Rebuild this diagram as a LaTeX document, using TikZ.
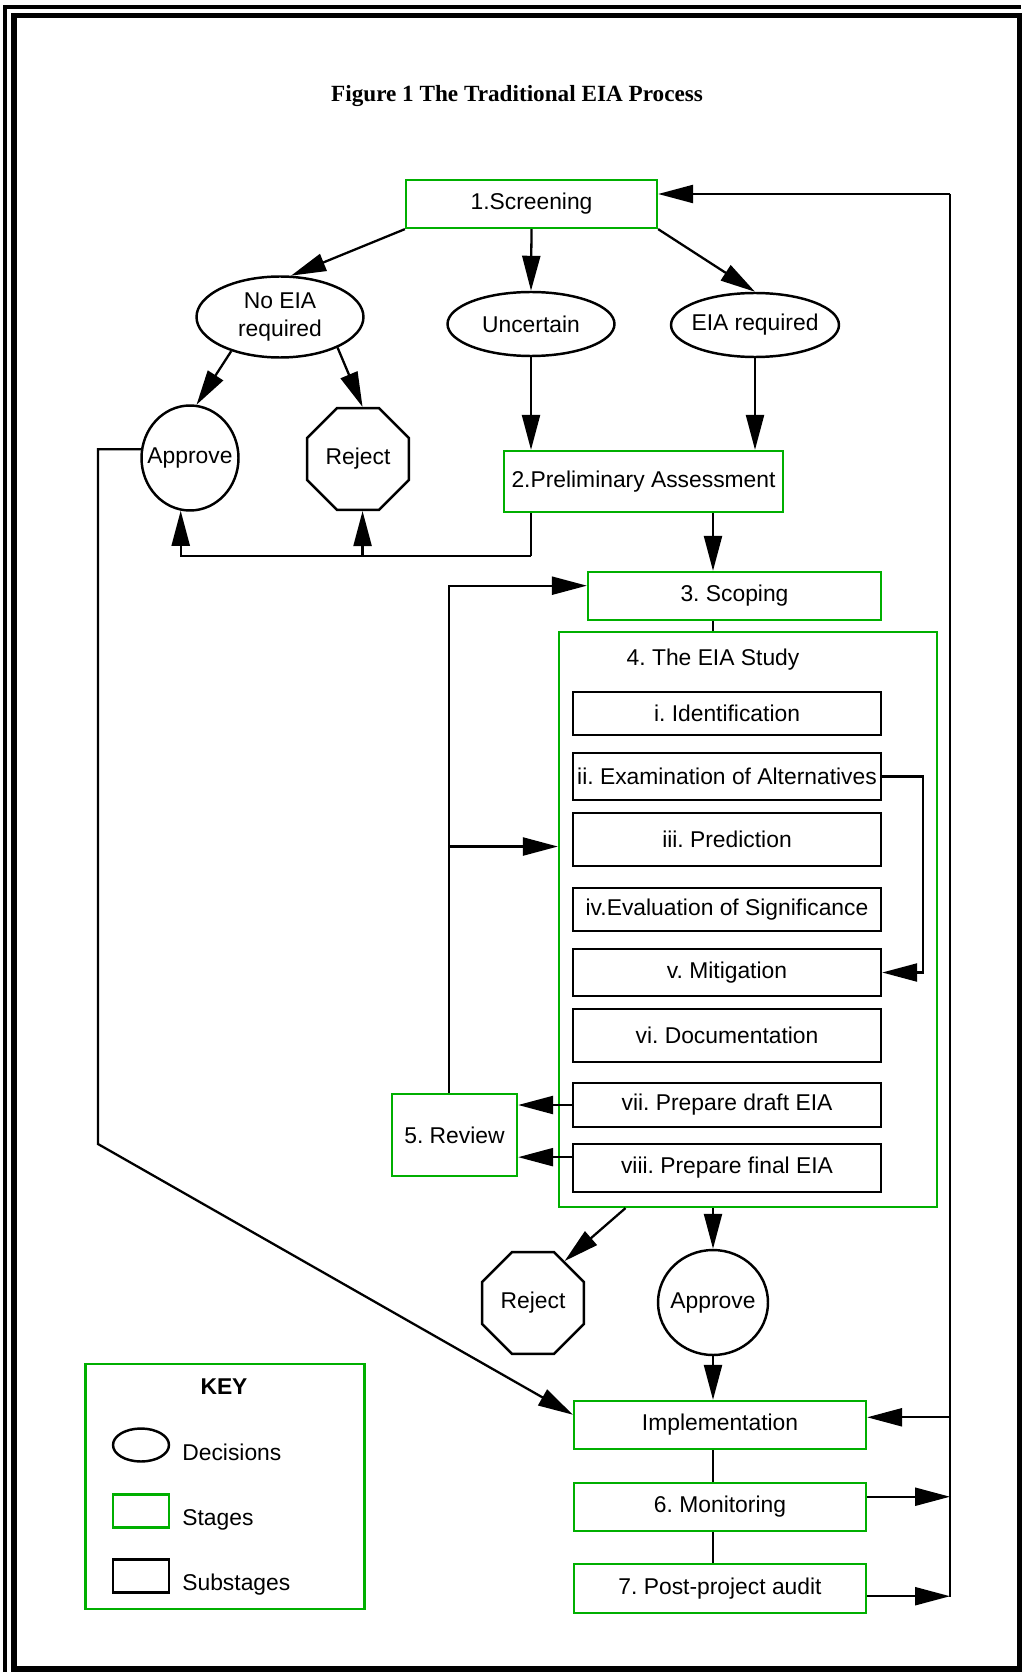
\documentclass[tikz,border=0pt]{standalone}
\usepackage{fontspec}
\setmainfont{Liberation Sans}
\newfontfamily\titlefont{Liberation Serif}
\usepackage{xcolor}
\usepackage{tikz}
\usetikzlibrary{calc}
\usetikzlibrary{arrows.meta}
\usetikzlibrary{shapes.geometric}
\definecolor{stagegreen}{RGB}{0,175,0}
\frenchspacing

\begin{document}
\begin{tikzpicture}[x=0.02cm,y=-0.02cm,
	font=\fontsize{13}{16}\selectfont,
	stage/.style={draw=stagegreen,line width=1.3pt,inner sep=1pt},
	substage/.style={draw,line width=1.4pt,inner sep=1pt,minimum width=6.16cm},
	decision/.style={draw,ellipse,line width=1.4pt,inner sep=-6pt},
	octa/.style={draw,regular polygon,regular polygon sides=8,minimum size=2.2cm,inner sep=0pt,line width=1.4pt},
	link/.style={line width=1.3pt},
	flow/.style={link,-{Triangle[length=7mm,width=3.6mm]}}]
	\useasboundingbox (0,0) rectangle (1021,1672);
	% frame of the page
	\draw[line width=0.08cm] (5,1672) -- (5,7) -- (1021,7);% outer line
	\draw[line width=0.11cm] (14,1669) rectangle (1020,15.5);% inner line
	\node[font={\titlefont\bfseries\fontsize{13.2}{16}\selectfont}] (title) at (517,96) {Figure 1 The Traditional EIA Process};
	% screening and its outcomes
	\node[stage,minimum width=5.02cm,minimum height=0.96cm] (screen) at (531.5,204) {1.Screening};
	\node[decision,minimum width=3.34cm,minimum height=1.62cm,align=center] (noeia) at (280,317) {No EIA\\required};
	\node[decision,minimum width=3.34cm,minimum height=1.28cm] (uncertain) at (531,324) {Uncertain};
	\node[decision,minimum width=3.36cm,minimum height=1.28cm] (eiareq) at (755,325) {EIA required};
	\node[decision,minimum width=1.94cm,minimum height=2.1cm] (approve1) at (190,458) {Approve};
	\node[octa] (reject1) at (358,459) {Reject};
	\node[stage,minimum width=5.58cm,minimum height=1.22cm] (prelim) at (643.5,481.5) {2.Preliminary Assessment};
	\node[stage,minimum width=5.86cm,minimum height=0.96cm] (scoping) at (734.5,596) {3. Scoping};
	% the EIA study and its substages
	\node[stage,minimum width=7.56cm,minimum height=11.5cm] (study) at (748,919.5) {};
	\node (studylbl) at (713,660) {4. The EIA Study};
	\node[substage,minimum height=0.86cm] (ident) at (727,713.5) {i. Identification};
	\node[substage,minimum height=0.94cm] (exam) at (727,776.5) {ii. Examination of Alternatives};
	\node[substage,minimum height=1.06cm] (predict) at (727,839.5) {iii. Prediction};
	\node[substage,minimum height=0.86cm] (evalsig) at (727,909.5) {iv.Evaluation of Significance};
	\node[substage,minimum height=0.94cm] (mitig) at (727,972.5) {v. Mitigation};
	\node[substage,minimum height=1.06cm] (docu) at (727,1035.5) {vi. Documentation};
	\node[substage,minimum height=0.88cm] (draft) at (727,1105) {vii. Prepare draft EIA};
	\node[substage,minimum height=0.96cm] (final) at (727,1168) {viii. Prepare final EIA};
	\node[stage,minimum width=2.5cm,minimum height=1.64cm] (review) at (454.5,1135) {5. Review};
	% after the study
	\node[octa] (reject2) at (533,1303) {Reject};
	\node[decision,minimum width=2.2cm,minimum height=2.1cm] (approve2) at (713,1302.5) {Approve};
	\node[stage,minimum width=5.84cm,minimum height=0.96cm] (impl) at (720,1425) {Implementation};
	\node[stage,minimum width=5.84cm,minimum height=0.96cm] (monitor) at (720,1507) {6. Monitoring};
	\node[stage,minimum width=5.84cm,minimum height=0.98cm] (audit) at (720,1588.5) {7. Post-project audit};
	% key
	\node[stage,minimum width=5.58cm,minimum height=4.9cm] (key) at (225,1486.5) {};
	\node[font={\bfseries\fontsize{13}{16}\selectfont}] (keylbl) at (224,1387) {KEY};
	\node[draw,ellipse,line width=1.4pt,minimum width=1.12cm,minimum height=0.66cm,inner sep=0pt] (keydec) at (141,1445) {};
	\node[draw=stagegreen,line width=1.3pt,minimum width=1.12cm,minimum height=0.66cm,inner sep=0pt] (keystage) at (141,1511) {};
	\node[draw,line width=1.4pt,minimum width=1.12cm,minimum height=0.66cm,inner sep=0pt] (keysub) at (141,1576) {};
	\node[anchor=base west,inner sep=0pt] (keydectxt) at (182,1460) {Decisions};
	\node[anchor=base west,inner sep=0pt] (keystagetxt) at (182,1525) {Stages};
	\node[anchor=base west,inner sep=0pt] (keysubtxt) at (182,1590) {Substages};
	% screening outcomes
	\draw[flow] (screen.south west) -- (noeia.75);
	\draw[flow] (screen.south) -- (uncertain.north);
	\draw[flow] (screen.south east) -- (eiareq.north);
	\draw[flow] (noeia.215) -- (approve1.83);
	\draw[flow] (noeia.332) -- (reject1.85);
	\draw[flow] (uncertain.south) -- (uncertain.south |- prelim.north);
	\draw[flow] (eiareq.south) -- (eiareq.south |- prelim.north);
	% preliminary assessment back to the decisions
	\draw[link] (uncertain.south |- prelim.south) -- ++(0,43) coordinate (pbus);
	\draw[flow] (pbus) -| (approve1.260);
	\draw[flow] (reject1.275 |- pbus) -- (reject1.275);
	\draw[flow] (prelim.south -| studylbl) -- (scoping.north -| studylbl);
	\draw[link] (scoping.south -| studylbl) -- (study.north -| studylbl);
	% review loop
	\draw[flow] (review.97) |- (scoping.176);
	\draw[flow] (review.97 |- study.159) -- (study.159);
	\draw[flow] (draft.west) -- (draft.west -| review.east);
	\draw[flow] (final.176) -- (final.176 -| review.east);
	\draw[flow] (exam.east) -- ++(41,0) |- (mitig.east);
	% decisions after the study
	\draw[flow] (study.247) -- (reject2.53);
	\draw[flow] (study.south -| studylbl) -- (approve2.north);
	\draw[flow] (approve2.south) -- (approve2.south |- impl.north);
	\draw[link] (impl.south -| approve2) -- (monitor.north -| approve2);
	\draw[link] (monitor.south -| approve2) -- (audit.north -| approve2);
	% feedback line on the right
	\coordinate (fbtop) at (950,194);
	\coordinate (fbbot) at (950,1597);
	\draw[link] (fbtop) -- (fbbot);
	\draw[flow] (fbtop) -- (fbtop -| screen.east);
	\draw[flow] (impl.3 -| fbtop) -- (impl.3);
	\draw[flow] (monitor.4) -- (monitor.4 -| fbtop);
	\draw[flow] (audit.357) -- (audit.357 -| fbtop);
	% approval without EIA goes to implementation
	\coordinate (bend) at (98,1144);
	\draw[flow] (approve1.170) -| (bend) -- (impl.176);
\end{tikzpicture}
\end{document}
